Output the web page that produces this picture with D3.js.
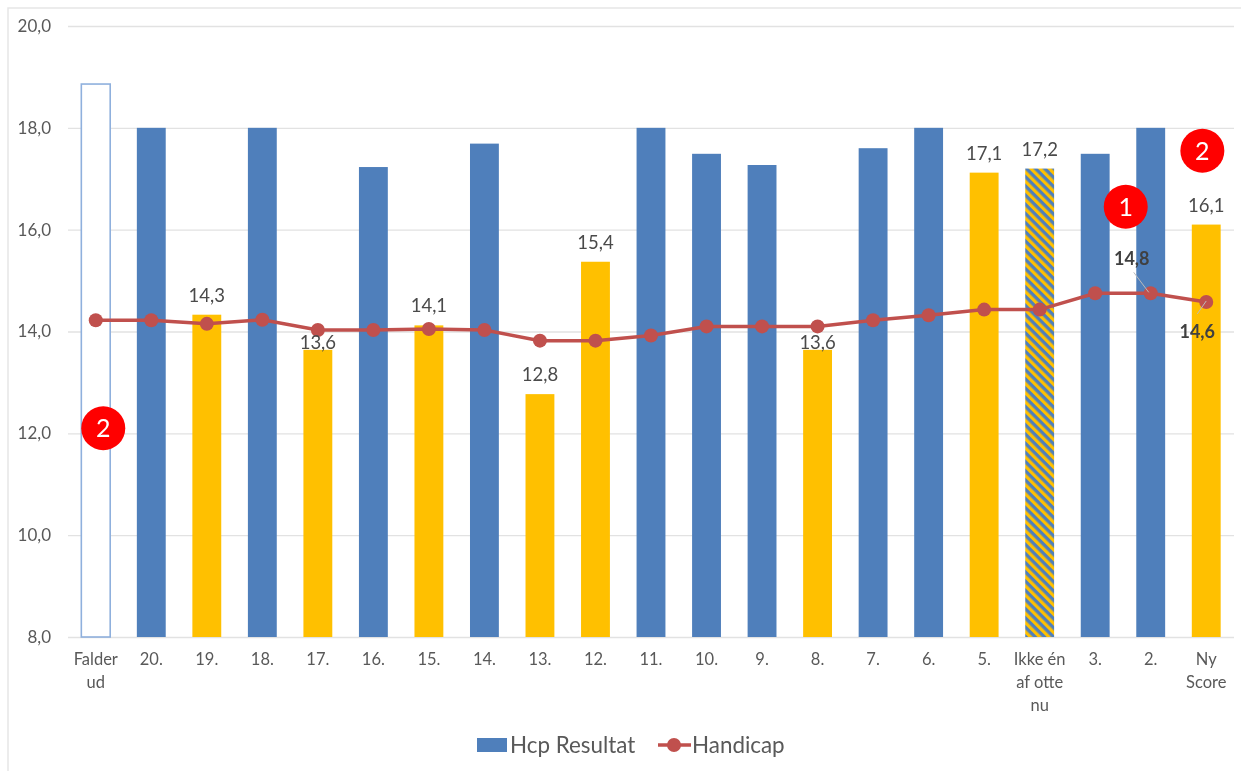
<!DOCTYPE html>
<html lang="en">
<head>
    <meta charset="utf-8">
    <title>Hcp Resultat</title>
    <script src="https://d3js.org/d3.v7.min.js"></script>
    <style>
        html, body { margin: 0; padding: 0; background: #fff; overflow: hidden; }
        svg { display: block; font-family: Lato, "Open Sans", sans-serif; filter: blur(0.7px); }
    </style>
</head>
<body>
    <svg width="1241" height="771" id="mainsvg"></svg>

    <script>
        const categories = ['Falder ud', '20.', '19.', '18.', '17.', '16.', '15.', '14.', '13.', '12.', '11.', '10.', '9.', '8.', '7.', '6.', '5.', 'Ikke én af otte nu', '3.', '2.', 'Ny Score']
        const hcpResult = [18.86, 18, 14.33, 18, 13.64, 17.23, 14.12, 17.69, 12.77, 15.37, 18, 17.49, 17.27, 13.64, 17.6, 18, 17.12, 17.2, 17.49, 18, 16.1]
        const barKinds = ['empty', 'best', 'counted', 'best', 'counted', 'best', 'counted', 'best', 'counted', 'counted', 'best', 'best', 'best', 'counted', 'best', 'best', 'counted', 'hatched', 'best', 'best', 'counted']
        const handicap = [14.22, 14.22, 14.15, 14.23, 14.03, 14.03, 14.05, 14.03, 13.82, 13.82, 13.92, 14.1, 14.1, 14.1, 14.22, 14.32, 14.43, 14.43, 14.75, 14.75, 14.58]
        const yTicks = [8, 10, 12, 14, 16, 18, 20]
        // these two labels sit close on top of their bars, under the line
        const tightLabels = ['17.', '8.']

        // red numbered badges, placed in category slots and axis values
        const badgeNumbers = [2, 1, 2]
        const badgeSlots = [0.135, 18.55, 19.93]
        const badgeValues = [12.1, 16.45, 17.55]

        const comma = v => v.toFixed(1).replace('.', ',')

        const svg = d3.select('#mainsvg')
        const width = +svg.attr('width')
        const height = +svg.attr('height')
        const margin = {top: 26, right: 7, bottom: 134, left: 68}
        const innerWidth = width - margin.left - margin.right
        const innerHeight = height - margin.top - margin.bottom

        const defs = svg.append('defs')
        const hatch = defs.append('pattern').attr('id', 'hatch')
            .attr('patternUnits', 'userSpaceOnUse')
            .attr('width', 6.5).attr('height', 6.5)
            .attr('patternTransform', 'rotate(-45)')
        hatch.append('rect').attr('width', 6.5).attr('height', 6.5).attr('fill', '#4f7fbb')
        hatch.append('rect').attr('width', 3.2).attr('height', 6.5).attr('fill', '#ffc000')

        const root = svg.append('g')
        root.append('rect').attr('width', width).attr('height', height).attr('fill', '#fff')
        // chart frame, only left and top show in the picture
        root.append('path')
            .attr('d', `M8,${height}V8H${width}`)
            .attr('fill', 'none').attr('stroke', '#e6e6e6').attr('stroke-width', 1.5)

        const g = root.append('g').attr('transform', `translate(${margin.left}, ${margin.top})`)

        const xScale = d3.scaleBand().domain(categories).range([0, innerWidth]).paddingInner(0.48).paddingOuter(0.24)
        const yScale = d3.scaleLinear().domain([8, 20]).range([innerHeight, 0])
        const slotScale = d3.scaleLinear()
            .domain([0, categories.length - 1])
            .range([xScale(categories[0]) + xScale.bandwidth() / 2, xScale(categories[categories.length - 1]) + xScale.bandwidth() / 2])

        // y axis + gridlines
        const yAxis = d3.axisLeft(yScale).tickValues(yTicks).tickFormat(comma).tickSize(-innerWidth).tickPadding(17)
        const yAxisGroup = g.append('g').call(yAxis)
        yAxisGroup.select('.domain').remove()
        yAxisGroup.selectAll('.tick line').attr('stroke', '#e2e2e2').attr('stroke-width', 1.3)
        yAxisGroup.selectAll('.tick text').attr('font-size', 17).attr('font-family', 'Lato').attr('fill', '#595959')

        // x axis, long names wrap by hand
        const wrapped = {'Falder ud': ['Falder', 'ud'], 'Ikke én af otte nu': ['Ikke én', 'af otte', 'nu'], 'Ny Score': ['Ny', 'Score']}
        const xAxis = d3.axisBottom(xScale).tickSize(0).tickPadding(16.5)
        const xAxisGroup = g.append('g').attr('transform', `translate(0, ${innerHeight})`).call(xAxis)
        xAxisGroup.select('.domain').remove()
        xAxisGroup.selectAll('.tick text')
            .attr('font-size', 16.5).attr('font-family', 'Lato').attr('fill', '#595959')
            .each(function (d) {
                const lines = wrapped[d] || [d]
                const t = d3.select(this).text(null)
                lines.forEach((s, i) => t.append('tspan').attr('x', 0).attr('dy', i ? 23 : '0.71em').text(s))
            })

        const fills = {best: '#4f7fbb', counted: '#ffc000', hatched: 'url(#hatch)', empty: '#fff'}
        g.selectAll('.bar').data(categories).join('rect')
            .attr('class', 'bar')
            .attr('x', d => xScale(d))
            .attr('width', xScale.bandwidth())
            .attr('y', (d, i) => yScale(hcpResult[i]))
            .attr('height', (d, i) => innerHeight - yScale(hcpResult[i]))
            .attr('fill', (d, i) => fills[barKinds[i]])
            .attr('stroke', (d, i) => barKinds[i] === 'empty' ? '#8fb0dd' : 'none')
            .attr('stroke-width', 1.6)

        const line = d3.line().x((d, i) => slotScale(i)).y(d => yScale(d))
        g.append('path').datum(handicap)
            .attr('d', line).attr('fill', 'none')
            .attr('stroke', '#c0504d').attr('stroke-width', 3.5)
        g.selectAll('.pt').data(handicap).join('circle')
            .attr('class', 'pt')
            .attr('cx', (d, i) => slotScale(i)).attr('cy', d => yScale(d)).attr('r', 7)
            .attr('fill', '#c0504d')

        // value labels over the yellow bars
        const labelled = categories.filter((d, i) => barKinds[i] === 'counted' || barKinds[i] === 'hatched')
        g.selectAll('.lbl').data(labelled).join('text')
            .attr('class', 'lbl')
            .attr('x', d => xScale(d) + xScale.bandwidth() / 2)
            .attr('y', d => yScale(hcpResult[categories.indexOf(d)]) + (tightLabels.includes(d) ? -1 : -13))
            .attr('text-anchor', 'middle').attr('font-size', 18.5).attr('fill', '#4a4a4a')
            .text(d => comma(hcpResult[categories.indexOf(d)]))

        // the two handicap labels pulled off their points with a leader
        const iTwo = categories.indexOf('2.')
        const iNew = categories.indexOf('Ny Score')
        g.append('line')
            .attr('x1', slotScale(iTwo) - 17).attr('y1', yScale(handicap[iTwo]) - 21)
            .attr('x2', slotScale(iTwo) - 2).attr('y2', yScale(handicap[iTwo]) - 1)
            .attr('stroke', '#bbb').attr('stroke-width', 1)
        g.append('line')
            .attr('x1', slotScale(iNew) - 9).attr('y1', yScale(handicap[iNew]) + 12)
            .attr('x2', slotScale(iNew)).attr('y2', yScale(handicap[iNew]) - 1)
            .attr('stroke', '#bbb').attr('stroke-width', 1)
        g.append('text')
            .attr('x', slotScale(iTwo) - 19).attr('y', yScale(handicap[iTwo]) - 28)
            .attr('text-anchor', 'middle').attr('font-size', 18).attr('font-weight', 700).attr('fill', '#404040')
            .text(comma(14.8))
        g.append('text')
            .attr('x', slotScale(iNew) - 9).attr('y', yScale(handicap[iNew]) + 36)
            .attr('text-anchor', 'middle').attr('font-size', 18).attr('font-weight', 700).attr('fill', '#404040')
            .text(comma(14.6))

        // badges
        const badge = g.selectAll('.badge').data(badgeNumbers).join('g')
            .attr('class', 'badge')
            .attr('transform', (d, i) => `translate(${slotScale(badgeSlots[i])}, ${yScale(badgeValues[i])})`)
        badge.append('circle').attr('r', 22).attr('fill', '#ff0000')
        badge.append('text')
            .attr('text-anchor', 'middle').attr('dy', '0.36em')
            .attr('font-size', 25).attr('fill', '#fff')
            .text(d => d)

        // legend
        const legend = root.append('g').attr('transform', 'translate(0, 745)')
        legend.append('rect').attr('x', 477).attr('y', -7).attr('width', 30).attr('height', 14).attr('fill', '#4f7fbb')
        legend.append('text').attr('x', 510).attr('dy', '0.35em').attr('font-size', 22.4).attr('fill', '#595959').text('Hcp Resultat')
        legend.append('line').attr('x1', 658).attr('x2', 691).attr('stroke', '#c0504d').attr('stroke-width', 3.5)
        legend.append('circle').attr('cx', 674).attr('r', 7).attr('fill', '#c0504d')
        legend.append('text').attr('x', 692).attr('dy', '0.35em').attr('font-size', 22.4).attr('fill', '#595959').text('Handicap')
    </script>
</body>
</html>
